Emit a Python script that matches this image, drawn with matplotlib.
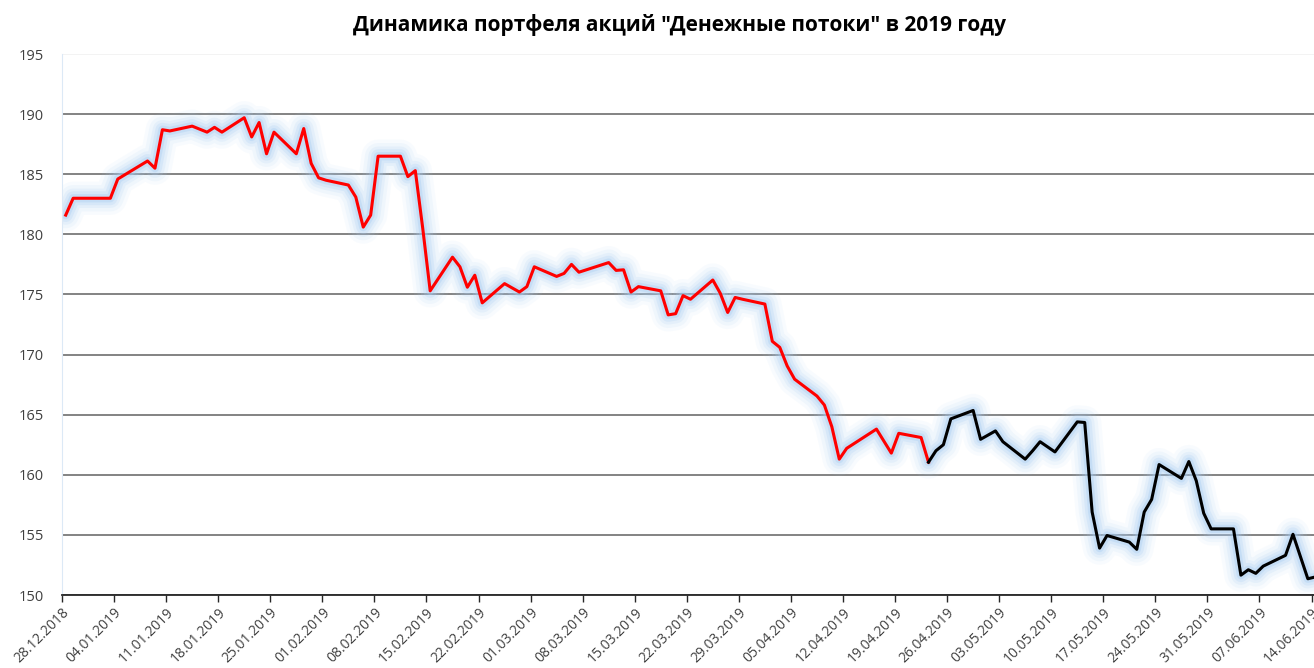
''' Динамика портфеля акций - line chart '''
import matplotlib
matplotlib.use('Agg')
import matplotlib.pyplot as plt
import matplotlib.dates as mdates
import pandas as pd

plt.rcParams['font.family'] = ['Open Sans', 'DejaVu Sans']

# data
dates = [
    '28.12.2018', '29.12.2018', '03.01.2019', '04.01.2019', '08.01.2019', '09.01.2019',
    '10.01.2019', '11.01.2019', '14.01.2019', '15.01.2019', '16.01.2019', '17.01.2019',
    '18.01.2019', '21.01.2019', '22.01.2019', '23.01.2019', '24.01.2019', '25.01.2019',
    '28.01.2019', '29.01.2019', '30.01.2019', '31.01.2019', '01.02.2019', '04.02.2019',
    '05.02.2019', '06.02.2019', '07.02.2019', '08.02.2019', '11.02.2019', '12.02.2019',
    '13.02.2019', '14.02.2019', '15.02.2019', '18.02.2019', '19.02.2019', '20.02.2019',
    '21.02.2019', '22.02.2019', '25.02.2019', '26.02.2019', '27.02.2019', '28.02.2019',
    '01.03.2019', '04.03.2019', '05.03.2019', '06.03.2019', '07.03.2019', '11.03.2019',
    '12.03.2019', '13.03.2019', '14.03.2019', '15.03.2019', '18.03.2019', '19.03.2019',
    '20.03.2019', '21.03.2019', '22.03.2019', '25.03.2019', '26.03.2019', '27.03.2019',
    '28.03.2019', '29.03.2019', '01.04.2019', '02.04.2019', '03.04.2019', '04.04.2019',
    '05.04.2019', '08.04.2019', '09.04.2019', '10.04.2019', '11.04.2019', '12.04.2019',
    '15.04.2019', '16.04.2019', '17.04.2019', '18.04.2019', '19.04.2019', '22.04.2019',
    '23.04.2019', '24.04.2019', '25.04.2019', '26.04.2019', '29.04.2019', '30.04.2019',
    '02.05.2019', '03.05.2019', '06.05.2019', '07.05.2019', '08.05.2019', '10.05.2019',
    '13.05.2019', '14.05.2019', '15.05.2019', '16.05.2019', '17.05.2019', '20.05.2019',
    '21.05.2019', '22.05.2019', '23.05.2019', '24.05.2019', '27.05.2019', '28.05.2019',
    '29.05.2019', '30.05.2019', '31.05.2019', '03.06.2019', '04.06.2019', '05.06.2019',
    '06.06.2019', '07.06.2019', '10.06.2019', '11.06.2019', '13.06.2019', '14.06.2019',
]
values = [
    181.6, 183.0, 183.0, 184.6, 186.1, 185.5,
    188.7, 188.6, 189.0, 188.75, 188.5, 188.9,
    188.5, 189.7, 188.1, 189.3, 186.7, 188.5,
    186.7, 188.8, 185.9, 184.7, 184.5, 184.1,
    183.1, 180.6, 181.6, 186.5, 186.5, 184.8,
    185.3, 180.5, 175.3, 178.1, 177.3, 175.6,
    176.6, 174.3, 175.9, 175.55, 175.2, 175.65,
    177.3, 176.5, 176.75, 177.5, 176.85, 177.65,
    177.0, 177.05, 175.2, 175.65, 175.3, 173.3,
    173.4, 174.9, 174.6, 176.2, 175.1, 173.5,
    174.75, 174.6, 174.2, 171.1, 170.6, 169.05,
    167.95, 166.55, 165.8, 164.0, 161.3, 162.2,
    163.4, 163.8, 162.8, 161.8, 163.45, 163.1,
    161.05, 162.0, 162.5, 164.65, 165.35, 162.95,
    163.65, 162.75, 161.3, 162.0, 162.75, 161.9,
    164.4, 164.35, 156.9, 153.9, 154.95, 154.4,
    153.8, 156.9, 157.95, 160.85, 159.7, 161.1,
    159.5, 156.8, 155.5, 155.5, 151.65, 152.1,
    151.8, 152.4, 153.3, 155.05, 151.35, 151.5,
]
split_date = '23.04.2019'  # red up to here, black after
title = 'Динамика портфеля акций "Денежные потоки" в 2019 году'

s = pd.Series(values, index=pd.to_datetime(dates, format='%d.%m.%Y'))
# excel date axis: points sit in the middle of their day
x = s.index + pd.Timedelta(hours=12)
split = pd.to_datetime(split_date, format='%d.%m.%Y')
red = s.index <= split
black = s.index >= split

fig = plt.figure(figsize=(13.14, 6.68), dpi=100)
ax = fig.add_axes([62 / 1314, 73 / 668, 1257 / 1314, 541 / 668])

# soft blue glow under the line
for lw, a in [(24, 0.07), (19, 0.1), (14, 0.15), (10, 0.22), (6, 0.35)]:
    ax.plot(x, s.values, color='#a6cdf2', lw=lw, alpha=a,
            solid_joinstyle='round', solid_capstyle='round', zorder=2)

ax.plot(x[red], s.values[red], color='#ff0000', lw=2.2, zorder=3)
ax.plot(x[black], s.values[black], color='#000000', lw=2.2, zorder=3)

ax.set_ylim(150, 195)
ax.set_yticks(range(150, 196, 5))
ax.set_xlim(pd.Timestamp('2018-12-28'), pd.Timestamp('2019-06-15'))
ticks = pd.date_range('2018-12-28', '2019-06-14', freq='7D')
ax.set_xticks(ticks)
ax.xaxis.set_major_formatter(mdates.DateFormatter('%d.%m.%Y'))

ax.yaxis.grid(True, color='#7a7a7a', lw=1.3)
ax.get_ygridlines()[-1].set_color('#f2f2f2')
ax.set_axisbelow(True)

for side in ['top', 'right']:
    ax.spines[side].set_visible(False)
ax.spines['left'].set_color('#dce9f6')
ax.spines['bottom'].set_color('#262626')
ax.spines['bottom'].set_linewidth(1.3)

ax.tick_params(axis='y', length=0, pad=13, labelsize=10.5, labelcolor='#404040')
ax.tick_params(axis='x', length=5, width=1, color='#262626', direction='out',
               labelsize=10, labelcolor='#404040', pad=2)
for lab in ax.get_xticklabels():
    lab.set_rotation(45)
    lab.set_ha('right')
    lab.set_va('top')
    lab.set_rotation_mode('anchor')

fig.text(0.517, 0.963, title, ha='center', va='center',
         fontsize=15, fontweight='bold', color='#000000')

fig.savefig('out.png', dpi=100)
